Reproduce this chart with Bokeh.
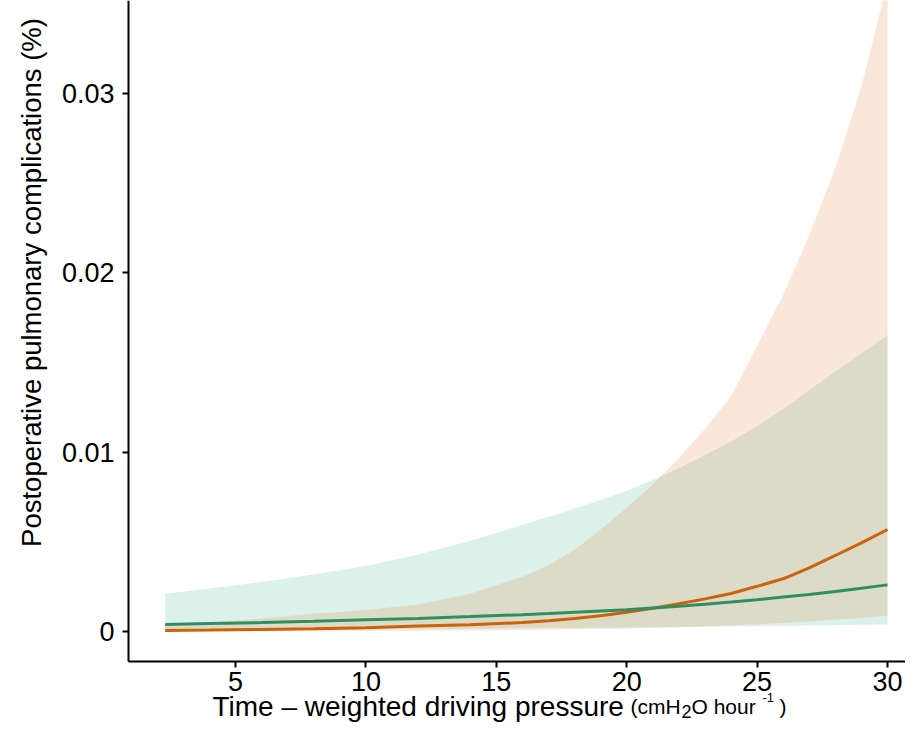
from bokeh.plotting import figure
from bokeh.models import Range1d, FixedTicker, Label
from bokeh.embed import file_html
from bokeh.resources import INLINE

# ---- data ----
x_vals = [2.3, 4, 6, 8, 10, 12, 14, 16, 17, 18, 19, 20, 21, 22, 23, 24, 25, 26, 27, 28, 29, 30]

green_fit = [0.00039, 0.00044, 0.00050, 0.00057, 0.00065, 0.00073, 0.00083, 0.00094, 0.00100,
             0.00107, 0.00114, 0.00121, 0.00131, 0.00141, 0.00152, 0.00164, 0.00177, 0.00192,
             0.00207, 0.00223, 0.00241, 0.00260]
green_lo = [0.00007, 0.00008, 0.00010, 0.00012, 0.00013, 0.00015, 0.00016, 0.00018, 0.00019,
            0.00020, 0.00021, 0.00022, 0.000235, 0.00025, 0.000265, 0.00028, 0.00030, 0.00031,
            0.00033, 0.00035, 0.00037, 0.00039]
green_hi = [0.00210, 0.00240, 0.00276, 0.00318, 0.00366, 0.00430, 0.00505, 0.00595, 0.00640,
            0.00685, 0.00733, 0.00785, 0.00845, 0.00910, 0.00983, 0.01060, 0.01145, 0.01240,
            0.01345, 0.01450, 0.01550, 0.01651]

orange_fit = [0.00006, 0.00008, 0.00011, 0.00015, 0.00021, 0.00030, 0.00037, 0.00050, 0.00060,
              0.00072, 0.00088, 0.00107, 0.00130, 0.00155, 0.00182, 0.00212, 0.00252, 0.00294,
              0.00355, 0.00424, 0.00494, 0.00569]
orange_lo = [0.000005, 0.00001, 0.000015, 0.00002, 0.00003, 0.00004, 0.00006, 0.00008, 0.00010,
             0.00012, 0.000145, 0.00017, 0.000205, 0.00024, 0.00029, 0.00034, 0.00040, 0.00047,
             0.00056, 0.00065, 0.00076, 0.00089]
orange_hi = [0.00032, 0.00050, 0.00072, 0.00099, 0.00120, 0.00150, 0.00210, 0.00305, 0.00370,
             0.00455, 0.00570, 0.00690, 0.00820, 0.00968, 0.01130, 0.01312, 0.01592, 0.01878,
             0.02210, 0.02585, 0.03040, 0.03620]

y_ticks = [0, 0.01, 0.02, 0.03]
y_tick_labels = ["0", "0.01", "0.02", "0.03"]
x_ticks = [5, 10, 15, 20, 25, 30]

FONT = "Liberation Sans"

W, H = 905, 723
# frame covers the whole canvas; axes are drawn at fixed locations inside it
X0, X1 = -4.014, 30.69
Y0, Y1 = -0.005131, 0.035193
X_AXIS_AT = -0.001673   # y value where the x axis line sits
Y_AXIS_AT = 0.8957      # x value where the y axis line sits

p = figure(width=W, height=H, output_backend="svg", toolbar_location=None,
           x_range=Range1d(X0, X1), y_range=Range1d(Y0, Y1), min_border=0)
p.outline_line_color = None
p.grid.visible = False
p.background_fill_color = "white"
p.border_fill_color = "white"

# bands
p.varea(x=x_vals, y1=green_lo, y2=green_hi, fill_color="#1B9E77", fill_alpha=0.15)
p.varea(x=x_vals, y1=orange_lo, y2=orange_hi, fill_color="#D95F02", fill_alpha=0.15)
# fitted lines
p.line(x_vals, orange_fit, line_color="#CC6209", line_width=3)
p.line(x_vals, green_fit, line_color="#2E8F5F", line_width=3)

for ax in (p.xaxis[0], p.yaxis[0]):
    ax.axis_line_color = "black"
    ax.axis_line_width = 2
    ax.major_tick_line_color = "black"
    ax.major_tick_line_width = 2
    ax.major_tick_in = 0
    ax.major_tick_out = 6
    ax.minor_tick_line_color = None
    ax.major_label_text_font = FONT
    ax.major_label_text_font_size = "27px"
    ax.major_label_text_color = "black"

p.xaxis.fixed_location = X_AXIS_AT
p.yaxis.fixed_location = Y_AXIS_AT
p.xaxis.bounds = (Y_AXIS_AT, X1)
p.yaxis.bounds = (X_AXIS_AT, Y1)
p.xaxis.major_label_standoff = 5
p.yaxis.major_label_standoff = 8
p.xaxis.ticker = FixedTicker(ticks=x_ticks)
p.yaxis.ticker = FixedTicker(ticks=y_ticks)
p.yaxis.major_label_overrides = {t: l for t, l in zip(y_ticks, y_tick_labels)}

def lab(x, y, text, size, **kw):
    p.add_layout(Label(x=x, y=y, x_units="screen", y_units="screen", text=text,
                       text_font=FONT, text_font_size=size, text_color="black",
                       text_baseline="alphabetic", **kw))

# y title
lab(31, H - 282, "Postoperative pulmonary complications (%)", "27.5px",
    angle=1.5707963, text_align="center")

# x title
base = 17
lab(212, base, "Time \u2013 weighted driving pressure", "28px", text_align="left")
lab(630, base, "(cmH", "21px", text_align="left")
lab(681, base - 5, "2", "18px", text_align="left")
lab(691, base, "O hour", "21px", text_align="left")
lab(762, base + 9, "-1", "13px", text_align="left")
lab(779, base, ")", "21px", text_align="left")

open("out.html", "w").write(file_html(p, INLINE))
